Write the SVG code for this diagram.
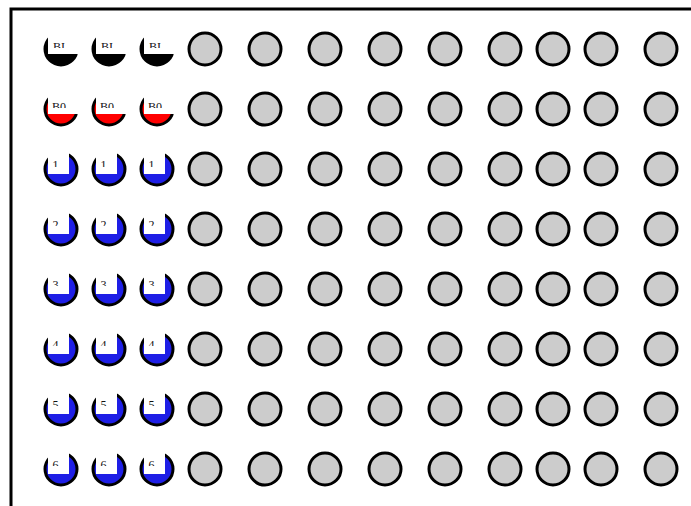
<svg xmlns="http://www.w3.org/2000/svg" width="691" height="506" viewBox="0 0 691 506">
<style>
.g{fill:#cccccc;stroke:#000;stroke-width:3}
.k{fill:#000;stroke:#000;stroke-width:3}
.r{fill:#ff0000;stroke:#000;stroke-width:3}
.b{fill:#1e1ee6;stroke:#000;stroke-width:3}
.w{fill:#fff}
.t{font-family:"Liberation Serif",serif;font-size:12px;fill:#111;text-anchor:middle}
</style>
<defs>
<clipPath id="c0"><rect x="0" y="29" width="691" height="19"/></clipPath>
<clipPath id="c1"><rect x="0" y="89" width="691" height="19"/></clipPath>
<clipPath id="c2"><rect x="0" y="149" width="691" height="18"/></clipPath>
<clipPath id="c3"><rect x="0" y="209" width="691" height="17"/></clipPath>
<clipPath id="c4"><rect x="0" y="269" width="691" height="17"/></clipPath>
<clipPath id="c5"><rect x="0" y="329" width="691" height="17"/></clipPath>
<clipPath id="c6"><rect x="0" y="389" width="691" height="17"/></clipPath>
<clipPath id="c7"><rect x="0" y="449" width="691" height="17"/></clipPath>
</defs>
<rect id="frame" x="11" y="9" width="720" height="540" fill="none" stroke="#000" stroke-width="3"/>
<g id="connectors"/>
<g id="half-nodes">
<g id="bi-1"><circle cx="61" cy="49" r="16" class="k"/><rect x="48" y="29" width="33" height="25" class="w"/><text x="59" y="51" class="t" clip-path="url(#c0)">BI</text></g>
<g id="bi-2"><circle cx="109" cy="49" r="16" class="k"/><rect x="96" y="29" width="33" height="25" class="w"/><text x="107" y="51" class="t" clip-path="url(#c0)">BI</text></g>
<g id="bi-3"><circle cx="157" cy="49" r="16" class="k"/><rect x="144" y="29" width="33" height="25" class="w"/><text x="155" y="51" class="t" clip-path="url(#c0)">BI</text></g>
<g id="b0-1"><circle cx="61" cy="109" r="16" class="r"/><rect x="48" y="89" width="33" height="25" class="w"/><text x="59" y="111" class="t" clip-path="url(#c1)">B0</text></g>
<g id="b0-2"><circle cx="109" cy="109" r="16" class="r"/><rect x="96" y="89" width="33" height="25" class="w"/><text x="107" y="111" class="t" clip-path="url(#c1)">B0</text></g>
<g id="b0-3"><circle cx="157" cy="109" r="16" class="r"/><rect x="144" y="89" width="33" height="25" class="w"/><text x="155" y="111" class="t" clip-path="url(#c1)">B0</text></g>
<g id="d1-1"><circle cx="61" cy="169" r="16" class="b"/><rect x="48" y="149" width="21" height="25" class="w"/><text x="55.5" y="169" class="t" clip-path="url(#c2)">1</text></g>
<g id="d1-2"><circle cx="109" cy="169" r="16" class="b"/><rect x="96" y="149" width="21" height="25" class="w"/><text x="103.5" y="169" class="t" clip-path="url(#c2)">1</text></g>
<g id="d1-3"><circle cx="157" cy="169" r="16" class="b"/><rect x="144" y="149" width="21" height="25" class="w"/><text x="151.5" y="169" class="t" clip-path="url(#c2)">1</text></g>
<g id="d2-1"><circle cx="61" cy="229" r="16" class="b"/><rect x="48" y="209" width="21" height="25" class="w"/><text x="55.5" y="229" class="t" clip-path="url(#c3)">2</text></g>
<g id="d2-2"><circle cx="109" cy="229" r="16" class="b"/><rect x="96" y="209" width="21" height="25" class="w"/><text x="103.5" y="229" class="t" clip-path="url(#c3)">2</text></g>
<g id="d2-3"><circle cx="157" cy="229" r="16" class="b"/><rect x="144" y="209" width="21" height="25" class="w"/><text x="151.5" y="229" class="t" clip-path="url(#c3)">2</text></g>
<g id="d3-1"><circle cx="61" cy="289" r="16" class="b"/><rect x="48" y="269" width="21" height="25" class="w"/><text x="55.5" y="289" class="t" clip-path="url(#c4)">3</text></g>
<g id="d3-2"><circle cx="109" cy="289" r="16" class="b"/><rect x="96" y="269" width="21" height="25" class="w"/><text x="103.5" y="289" class="t" clip-path="url(#c4)">3</text></g>
<g id="d3-3"><circle cx="157" cy="289" r="16" class="b"/><rect x="144" y="269" width="21" height="25" class="w"/><text x="151.5" y="289" class="t" clip-path="url(#c4)">3</text></g>
<g id="d4-1"><circle cx="61" cy="349" r="16" class="b"/><rect x="48" y="329" width="21" height="25" class="w"/><text x="55.5" y="349" class="t" clip-path="url(#c5)">4</text></g>
<g id="d4-2"><circle cx="109" cy="349" r="16" class="b"/><rect x="96" y="329" width="21" height="25" class="w"/><text x="103.5" y="349" class="t" clip-path="url(#c5)">4</text></g>
<g id="d4-3"><circle cx="157" cy="349" r="16" class="b"/><rect x="144" y="329" width="21" height="25" class="w"/><text x="151.5" y="349" class="t" clip-path="url(#c5)">4</text></g>
<g id="d5-1"><circle cx="61" cy="409" r="16" class="b"/><rect x="48" y="389" width="21" height="25" class="w"/><text x="55.5" y="409" class="t" clip-path="url(#c6)">5</text></g>
<g id="d5-2"><circle cx="109" cy="409" r="16" class="b"/><rect x="96" y="389" width="21" height="25" class="w"/><text x="103.5" y="409" class="t" clip-path="url(#c6)">5</text></g>
<g id="d5-3"><circle cx="157" cy="409" r="16" class="b"/><rect x="144" y="389" width="21" height="25" class="w"/><text x="151.5" y="409" class="t" clip-path="url(#c6)">5</text></g>
<g id="d6-1"><circle cx="61" cy="469" r="16" class="b"/><rect x="48" y="449" width="21" height="25" class="w"/><text x="55.5" y="469" class="t" clip-path="url(#c7)">6</text></g>
<g id="d6-2"><circle cx="109" cy="469" r="16" class="b"/><rect x="96" y="449" width="21" height="25" class="w"/><text x="103.5" y="469" class="t" clip-path="url(#c7)">6</text></g>
<g id="d6-3"><circle cx="157" cy="469" r="16" class="b"/><rect x="144" y="449" width="21" height="25" class="w"/><text x="151.5" y="469" class="t" clip-path="url(#c7)">6</text></g>
</g>
<g id="grey-nodes">
<g id="r1c4"><circle cx="205" cy="49" r="16" class="g"/></g><g id="r1c5"><circle cx="265" cy="49" r="16" class="g"/></g><g id="r1c6"><circle cx="325" cy="49" r="16" class="g"/></g><g id="r1c7"><circle cx="385" cy="49" r="16" class="g"/></g><g id="r1c8"><circle cx="445" cy="49" r="16" class="g"/></g><g id="r1c9"><circle cx="505" cy="49" r="16" class="g"/></g><g id="r1c10"><circle cx="553" cy="49" r="16" class="g"/></g><g id="r1c11"><circle cx="601" cy="49" r="16" class="g"/></g><g id="r1c12"><circle cx="661" cy="49" r="16" class="g"/></g>
<g id="r2c4"><circle cx="205" cy="109" r="16" class="g"/></g><g id="r2c5"><circle cx="265" cy="109" r="16" class="g"/></g><g id="r2c6"><circle cx="325" cy="109" r="16" class="g"/></g><g id="r2c7"><circle cx="385" cy="109" r="16" class="g"/></g><g id="r2c8"><circle cx="445" cy="109" r="16" class="g"/></g><g id="r2c9"><circle cx="505" cy="109" r="16" class="g"/></g><g id="r2c10"><circle cx="553" cy="109" r="16" class="g"/></g><g id="r2c11"><circle cx="601" cy="109" r="16" class="g"/></g><g id="r2c12"><circle cx="661" cy="109" r="16" class="g"/></g>
<g id="r3c4"><circle cx="205" cy="169" r="16" class="g"/></g><g id="r3c5"><circle cx="265" cy="169" r="16" class="g"/></g><g id="r3c6"><circle cx="325" cy="169" r="16" class="g"/></g><g id="r3c7"><circle cx="385" cy="169" r="16" class="g"/></g><g id="r3c8"><circle cx="445" cy="169" r="16" class="g"/></g><g id="r3c9"><circle cx="505" cy="169" r="16" class="g"/></g><g id="r3c10"><circle cx="553" cy="169" r="16" class="g"/></g><g id="r3c11"><circle cx="601" cy="169" r="16" class="g"/></g><g id="r3c12"><circle cx="661" cy="169" r="16" class="g"/></g>
<g id="r4c4"><circle cx="205" cy="229" r="16" class="g"/></g><g id="r4c5"><circle cx="265" cy="229" r="16" class="g"/></g><g id="r4c6"><circle cx="325" cy="229" r="16" class="g"/></g><g id="r4c7"><circle cx="385" cy="229" r="16" class="g"/></g><g id="r4c8"><circle cx="445" cy="229" r="16" class="g"/></g><g id="r4c9"><circle cx="505" cy="229" r="16" class="g"/></g><g id="r4c10"><circle cx="553" cy="229" r="16" class="g"/></g><g id="r4c11"><circle cx="601" cy="229" r="16" class="g"/></g><g id="r4c12"><circle cx="661" cy="229" r="16" class="g"/></g>
<g id="r5c4"><circle cx="205" cy="289" r="16" class="g"/></g><g id="r5c5"><circle cx="265" cy="289" r="16" class="g"/></g><g id="r5c6"><circle cx="325" cy="289" r="16" class="g"/></g><g id="r5c7"><circle cx="385" cy="289" r="16" class="g"/></g><g id="r5c8"><circle cx="445" cy="289" r="16" class="g"/></g><g id="r5c9"><circle cx="505" cy="289" r="16" class="g"/></g><g id="r5c10"><circle cx="553" cy="289" r="16" class="g"/></g><g id="r5c11"><circle cx="601" cy="289" r="16" class="g"/></g><g id="r5c12"><circle cx="661" cy="289" r="16" class="g"/></g>
<g id="r6c4"><circle cx="205" cy="349" r="16" class="g"/></g><g id="r6c5"><circle cx="265" cy="349" r="16" class="g"/></g><g id="r6c6"><circle cx="325" cy="349" r="16" class="g"/></g><g id="r6c7"><circle cx="385" cy="349" r="16" class="g"/></g><g id="r6c8"><circle cx="445" cy="349" r="16" class="g"/></g><g id="r6c9"><circle cx="505" cy="349" r="16" class="g"/></g><g id="r6c10"><circle cx="553" cy="349" r="16" class="g"/></g><g id="r6c11"><circle cx="601" cy="349" r="16" class="g"/></g><g id="r6c12"><circle cx="661" cy="349" r="16" class="g"/></g>
<g id="r7c4"><circle cx="205" cy="409" r="16" class="g"/></g><g id="r7c5"><circle cx="265" cy="409" r="16" class="g"/></g><g id="r7c6"><circle cx="325" cy="409" r="16" class="g"/></g><g id="r7c7"><circle cx="385" cy="409" r="16" class="g"/></g><g id="r7c8"><circle cx="445" cy="409" r="16" class="g"/></g><g id="r7c9"><circle cx="505" cy="409" r="16" class="g"/></g><g id="r7c10"><circle cx="553" cy="409" r="16" class="g"/></g><g id="r7c11"><circle cx="601" cy="409" r="16" class="g"/></g><g id="r7c12"><circle cx="661" cy="409" r="16" class="g"/></g>
<g id="r8c4"><circle cx="205" cy="469" r="16" class="g"/></g><g id="r8c5"><circle cx="265" cy="469" r="16" class="g"/></g><g id="r8c6"><circle cx="325" cy="469" r="16" class="g"/></g><g id="r8c7"><circle cx="385" cy="469" r="16" class="g"/></g><g id="r8c8"><circle cx="445" cy="469" r="16" class="g"/></g><g id="r8c9"><circle cx="505" cy="469" r="16" class="g"/></g><g id="r8c10"><circle cx="553" cy="469" r="16" class="g"/></g><g id="r8c11"><circle cx="601" cy="469" r="16" class="g"/></g><g id="r8c12"><circle cx="661" cy="469" r="16" class="g"/></g>
</g>
</svg>
